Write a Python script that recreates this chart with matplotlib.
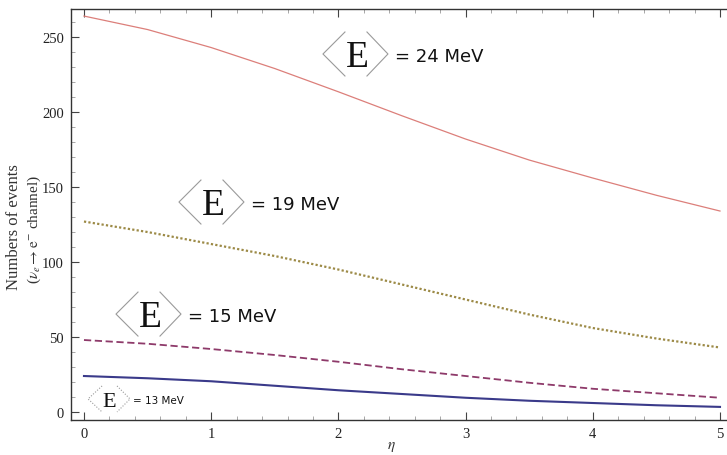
import numpy as np
import matplotlib
matplotlib.use("Agg")
import matplotlib.pyplot as plt
from matplotlib.ticker import MultipleLocator
from matplotlib.transforms import ScaledTranslation

# ---------------- data ---------------- #
eta = [0, 0.5, 1, 1.5, 2, 2.5, 3, 3.5, 4, 4.5, 5]

n_24 = [264, 255, 243, 229, 213.5, 197.5, 182, 168, 156, 144.5, 134]
n_19 = [127, 120, 112, 104, 95, 85, 75, 65, 56, 49, 43]
n_15 = [48, 45.5, 42, 38, 33.5, 28.5, 24, 19.5, 15.5, 12.5, 9.5]
n_13 = [24, 22.5, 20.5, 17.5, 14.5, 12, 9.5, 7.5, 6, 4.5, 3.4]

x_ticks = [0, 1, 2, 3, 4, 5]
y_ticks = [0, 50, 100, 150, 200, 250]

energies = ["24", "19", "15", "13"]
# where the centre of each big "E" sits, in data units
label_pos = [(2.146, 238.7), (1.014, 140.0), (0.519, 65.3), (0.197, 8.7)]

plt.rcParams["mathtext.fontset"] = "stix"
serif = "Liberation Serif"

fig = plt.figure(figsize=(7.27, 4.56), dpi=100)
W, H = 727, 456
ax = fig.add_axes([71 / W, 1 - 421 / H, (W - 71) / W, (421 - 10) / H])

ax.plot(eta, n_24, color="#dc7f7a", lw=0.9)
ax.plot(eta, n_19, color="#9c8a46", lw=1.6, ls=(0, (1, 1)))
ax.plot(eta, n_15, color="#8e3a6a", lw=1.3, ls=(0, (4, 2)))
ax.plot(eta, n_13, color="#3a3a8a", lw=1.5)

ax.set_xlim(-0.102, 5.055)
ax.set_ylim(-5.33, 268.7)

ax.set_xticks(x_ticks)
ax.set_yticks(y_ticks)
ax.xaxis.set_minor_locator(MultipleLocator(0.2))
ax.yaxis.set_minor_locator(MultipleLocator(10))
ax.tick_params(which="both", direction="in", top=True, right=False,
               labeltop=False, colors="#444444")
ax.tick_params(which="major", length=6, width=0.8, pad=5)
ax.tick_params(which="minor", length=3, width=0.6, color="#999999")
for lab in ax.get_xticklabels() + ax.get_yticklabels():
    lab.set_fontfamily(serif)
    lab.set_fontsize(10.5)
    lab.set_color("#222222")

ax.spines["right"].set_visible(False)
for s in ["left", "bottom", "top"]:
    ax.spines[s].set_color("#333333")
    ax.spines[s].set_linewidth(1.0)

# axis labels
fig.text(14 / W, 1 - 227 / H, "Numbers of events", rotation=90,
         ha="center", va="center", family=serif, fontsize=12, color="#333333")
fig.text(34 / W, 1 - 230 / H, r"($\nu_e \rightarrow \mathrm{e}^{-}$ channel)",
         rotation=90, ha="center", va="center", family=serif, fontsize=11,
         color="#333333")
fig.text(391 / W, 1 - 447 / H, r"$\eta$", ha="center", va="center",
         fontsize=11, color="#333333")


def e_label(x, y, energy, small=False):
    # offsets below are in pixels relative to the centre of the "E"
    tr = fig.dpi_scale_trans + ScaledTranslation(x, y, ax.transData)
    if small:
        h, l_in, l_tip, r_in, r_tip, tx = 13, -7, -21, 8, 21, 24
        esize, tsize, ls = 16, 7.5, (0, (1, 1.5))
    else:
        h, l_in, l_tip, r_in, r_tip, tx = 22, -12, -34, 10, 31, 38
        esize, tsize, ls = 27, 13, "-"
    px = lambda v: np.array(v) / 100.0
    ax.plot(px([l_in, l_tip, l_in]), px([h, 0, -h]), transform=tr,
            color="#9a9a9a", lw=0.8, ls=ls, clip_on=False)
    ax.plot(px([r_in, r_tip, r_in]), px([h, 0, -h]), transform=tr,
            color="#9a9a9a", lw=0.8, ls=ls, clip_on=False)
    cap = esize * 0.662 * 100 / 72
    ax.text(0, -cap / 2 / 100, "E", transform=tr, ha="center", va="baseline",
            family=serif, fontsize=esize, color="#111111")
    tcap = tsize * 0.73 * 100 / 72
    ax.text(tx / 100, -tcap / 2 / 100, "= " + energy + " MeV", transform=tr,
            ha="left", va="baseline", family="DejaVu Sans", fontsize=tsize,
            color="#111111")


for (lx, ly), en in zip(label_pos, energies):
    e_label(lx, ly, en, small=(en == "13"))

fig.savefig("out.png", dpi=100)
